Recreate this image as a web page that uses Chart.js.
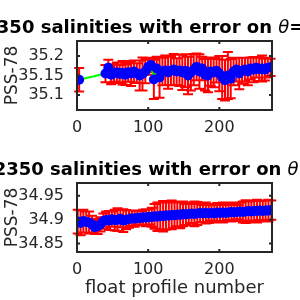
<!DOCTYPE html>
<html>
<head>
<meta charset="utf-8">
<script src="https://cdn.jsdelivr.net/npm/chart.js@4"></script>
<style>
  body { margin: 0; background: #fff; }
  .box { position: absolute; left: 0; width: 300px; height: 150px; }
</style>
</head>
<body>
<div class="box" style="top:0"><canvas id="top" width="300" height="150"></canvas></div>
<div class="box" style="top:150px"><canvas id="bottom" width="300" height="150"></canvas></div>
<script>
// top panel: first theta level
var topProfiles = [3,
  40, 44, 48, 52, 56, 60, 64, 68, 72, 76, 80, 84, 88, 92, 96, 100, 104, 108, 112, 116,
  120, 124, 128, 132, 136, 140, 144, 148, 152, 156, 160, 164, 168, 172, 176, 180, 184, 188, 192, 196,
  200, 204, 208, 212, 216, 220, 224, 228, 232, 236, 240, 244, 248, 252, 256, 260, 264, 268, 272];
var topSal = [35.139,
  35.155, 35.170, 35.152, 35.156, 35.158, 35.154, 35.157, 35.152, 35.158, 35.155, 35.160, 35.156, 35.150, 35.154, 35.160, 35.172, 35.177, 35.140, 35.168, 35.145,
  35.160, 35.163, 35.158, 35.162, 35.165, 35.160, 35.163, 35.158, 35.162, 35.150, 35.158, 35.165, 35.172, 35.160, 35.168, 35.152, 35.150, 35.160, 35.158, 35.162,
  35.155, 35.145, 35.138, 35.150, 35.142, 35.160, 35.165, 35.155, 35.162, 35.165, 35.160, 35.168, 35.165, 35.170, 35.166, 35.168, 35.165, 35.170, 35.171];
var topErr = [0.030,
  0.022, 0.020, 0.024, 0.022, 0.025, 0.023, 0.030, 0.026, 0.024, 0.032, 0.028, 0.025, 0.038, 0.042, 0.030, 0.020, 0.018, 0.050, 0.030, 0.052,
  0.035, 0.038, 0.042, 0.036, 0.040, 0.034, 0.040, 0.045, 0.042, 0.048, 0.046, 0.040, 0.034, 0.044, 0.030, 0.040, 0.043, 0.036, 0.038, 0.030,
  0.045, 0.055, 0.052, 0.060, 0.050, 0.035, 0.030, 0.040, 0.033, 0.030, 0.035, 0.028, 0.032, 0.025, 0.030, 0.033, 0.028, 0.025, 0.022];

// bottom panel: second theta level
var botProfiles = [1, 5, 9, 13, 17, 21, 25, 29, 33, 37, 41, 45, 49, 53, 57, 61, 65, 69, 73, 77,
  81, 85, 89, 93, 97, 101, 105, 109, 113, 117, 121, 125, 129, 133, 137, 141, 145, 149, 153, 157,
  161, 165, 169, 173, 177, 181, 185, 189, 193, 197, 201, 205, 209, 213, 217, 221, 225, 229, 233, 237,
  241, 245, 249, 253, 257, 261, 265, 269, 273];
var botSal = [34.896, 34.893, 34.897, 34.895, 34.894, 34.890, 34.884, 34.886, 34.890, 34.897, 34.899, 34.898, 34.901, 34.899, 34.900, 34.902, 34.898, 34.900, 34.901, 34.903,
  34.902, 34.904, 34.903, 34.905, 34.904, 34.906, 34.905, 34.907, 34.906, 34.908, 34.907, 34.909, 34.908, 34.910, 34.909, 34.911, 34.910, 34.912, 34.911, 34.912,
  34.913, 34.912, 34.913, 34.914, 34.913, 34.914, 34.913, 34.914, 34.913, 34.915, 34.914, 34.915, 34.914, 34.915, 34.916, 34.915, 34.916, 34.917, 34.916, 34.917,
  34.918, 34.917, 34.918, 34.918, 34.919, 34.918, 34.919, 34.919, 34.920];
var botErr = [0.025, 0.026, 0.024, 0.022, 0.023, 0.018, 0.014, 0.016, 0.015, 0.016, 0.018, 0.020, 0.016, 0.022, 0.024, 0.018, 0.024, 0.020, 0.018, 0.016,
  0.017, 0.014, 0.015, 0.016, 0.018, 0.016, 0.020, 0.026, 0.030, 0.028, 0.032, 0.030, 0.028, 0.030, 0.027, 0.025, 0.028, 0.026, 0.022, 0.024,
  0.020, 0.026, 0.024, 0.020, 0.018, 0.022, 0.020, 0.016, 0.019, 0.020, 0.017, 0.021, 0.018, 0.016, 0.020, 0.018, 0.015, 0.019, 0.022, 0.024,
  0.020, 0.023, 0.021, 0.024, 0.020, 0.022, 0.021, 0.023, 0.020];

var xTicks = [0, 100, 200];
var topYTicks = [35.1, 35.15, 35.2];
var botYTicks = [34.85, 34.9, 34.95];

var FONT = "DejaVu Sans";
var INK = "#262626";

function errorBars(profiles, values, errors) {
  return {
    id: "errorBars",
    beforeDatasetsDraw: function (chart) {
      var ctx = chart.ctx, x = chart.scales.x, y = chart.scales.y;
      ctx.save();
      ctx.strokeStyle = "#ff0000";
      ctx.lineWidth = 2;
      ctx.beginPath();
      profiles.forEach(function (p, i) {
        var px = x.getPixelForValue(p);
        var lo = y.getPixelForValue(values[i] - errors[i]);
        var hi = y.getPixelForValue(values[i] + errors[i]);
        ctx.moveTo(px, lo); ctx.lineTo(px, hi);
        ctx.moveTo(px - 5, lo); ctx.lineTo(px + 5, lo);
        ctx.moveTo(px - 5, hi); ctx.lineTo(px + 5, hi);
      });
      ctx.stroke();
      ctx.restore();
    }
  };
}

function frame(yTicks) {
  return {
    id: "frame",
    afterDatasetsDraw: function (chart) {
      var ctx = chart.ctx, a = chart.chartArea, x = chart.scales.x, y = chart.scales.y;
      ctx.save();
      ctx.strokeStyle = INK;
      ctx.lineWidth = 2;
      ctx.strokeRect(a.left, a.top, a.right - a.left, a.bottom - a.top);
      ctx.beginPath();
      xTicks.forEach(function (v) {
        var px = x.getPixelForValue(v);
        ctx.moveTo(px, a.bottom); ctx.lineTo(px, a.bottom - 3);
        ctx.moveTo(px, a.top); ctx.lineTo(px, a.top + 3);
      });
      yTicks.forEach(function (v) {
        var py = y.getPixelForValue(v);
        ctx.moveTo(a.left, py); ctx.lineTo(a.left + 3, py);
        ctx.moveTo(a.right, py); ctx.lineTo(a.right - 3, py);
      });
      ctx.stroke();
      ctx.restore();
    }
  };
}

// title centred over the axes, theta in a lighter italic like the TeX renderer
function title(parts) {
  return {
    id: "axTitle",
    afterDraw: function (chart) {
      var ctx = chart.ctx, a = chart.chartArea;
      ctx.save();
      ctx.fillStyle = "#000";
      ctx.textBaseline = "alphabetic";
      ctx.textAlign = "left";
      var total = 0;
      parts.forEach(function (p) { ctx.font = p[1]; total += ctx.measureText(p[0]).width; });
      var cx = (a.left + a.right) / 2 - total / 2;
      parts.forEach(function (p) {
        ctx.font = p[1];
        ctx.fillText(p[0], cx, a.top - 8);
        cx += ctx.measureText(p[0]).width;
      });
      ctx.restore();
    }
  };
}

function makeChart(id, profiles, values, errors, yMin, yMax, yTicks, titleParts, padTop, axisH, xLabel) {
  var pts = profiles.map(function (p, i) { return { x: p, y: values[i] }; });
  return new Chart(document.getElementById(id), {
    type: "line",
    data: {
      datasets: [
        {
          data: pts,
          showLine: false,
          pointRadius: 5,
          pointBackgroundColor: "#0000ff",
          pointBorderColor: "#0000ff",
          pointBorderWidth: 0
        },
        {
          data: pts,
          borderColor: "#00ff00",
          borderWidth: 2,
          pointRadius: 0,
          tension: 0
        }
      ]
    },
    options: {
      responsive: false,
      animation: false,
      events: [],
      layout: { padding: { left: 0, right: 28, top: padTop, bottom: 0 } },
      plugins: { legend: { display: false }, tooltip: { enabled: false }, title: { display: false } },
      scales: {
        x: {
          type: "linear",
          min: 0,
          max: 274,
          afterBuildTicks: function (s) { s.ticks = xTicks.map(function (v) { return { value: v }; }); },
          afterFit: function (s) { s.height = axisH; },
          grid: { display: false },
          border: { display: false },
          ticks: { font: { family: FONT, size: 16 }, color: INK, padding: 0, maxRotation: 0, autoSkip: false },
          title: {
            display: !!xLabel,
            text: xLabel,
            color: INK,
            font: { family: FONT, size: 18 },
            padding: { top: 0, bottom: 1 }
          }
        },
        y: {
          min: yMin,
          max: yMax,
          afterBuildTicks: function (s) { s.ticks = yTicks.map(function (v) { return { value: v }; }); },
          afterFit: function (s) { s.width = 77; },
          grid: { display: false },
          border: { display: false },
          ticks: {
            font: { family: FONT, size: 16 },
            color: INK,
            padding: 5,
            callback: function (v) { return String(v); }
          },
          title: {
            display: true,
            text: "PSS-78",
            color: INK,
            font: { family: FONT, size: 17 },
            padding: { top: 2, bottom: 0 }
          }
        }
      }
    },
    plugins: [errorBars(profiles, values, errors), frame(yTicks), title(titleParts)]
  });
}

var B = "bold 18px " + FONT;
var TH = "italic 18px " + FONT;

makeChart("top", topProfiles, topSal, topErr, 35.062, 35.238, topYTicks,
  [["6902350 salinities with error on ", B], ["θ", TH], ["=2.1893 °C", B]], 41, 40, "");
makeChart("bottom", botProfiles, botSal, botErr, 34.832, 34.977, botYTicks,
  [["6902350 salinities with error on ", B], ["θ", TH], ["=3.512°C", B]], 33, 48, "float profile number");
</script>
</body>
</html>
